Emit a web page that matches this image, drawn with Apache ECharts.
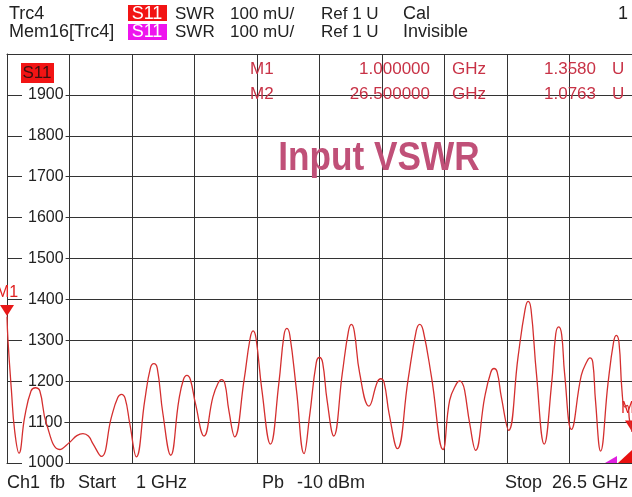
<!DOCTYPE html>
<html>
<head>
<meta charset="utf-8">
<script src="https://cdn.jsdelivr.net/npm/echarts@6/dist/echarts.min.js"></script>
<style>
  html, body { margin: 0; padding: 0; background: #fff; }
  #chart { width: 632px; height: 497px; }
</style>
</head>
<body>
<div id="chart"></div>
<script>
// 频率 (GHz) 与 SWR (mU)，从截图读出
const freqGHz = [
  1.00, 1.04, 1.18, 1.31, 1.49, 1.72, 1.98, 2.16, 2.34, 2.61,
  3.15, 3.56, 3.85, 4.10, 4.32, 4.51, 4.85, 5.26, 5.52, 5.67,
  5.82, 6.01, 6.28, 6.62, 6.85, 6.99, 7.13, 7.36, 7.68, 8.01,
  8.20, 8.34, 8.48, 8.69, 9.04, 9.40, 9.61, 9.75, 9.89, 10.05,
  10.29, 10.67, 10.92, 11.04, 11.16, 11.40, 11.75, 12.09, 12.30, 12.42,
  12.54, 12.81, 13.12, 13.35, 13.62, 13.75, 13.88, 14.06, 14.33, 14.68,
  14.93, 15.05, 15.17, 15.39, 15.77, 16.11, 16.25, 16.39, 16.59, 16.93,
  17.36, 17.70, 17.84, 17.98, 18.32, 18.79, 19.06, 19.34, 19.47, 19.58,
  19.67, 19.88, 20.12, 20.49, 20.74, 20.87, 21.00, 21.17, 21.47, 21.85,
  22.14, 22.26, 22.38, 22.60, 22.92, 23.22, 23.39, 23.51, 23.63, 23.75,
  24.03, 24.43, 24.66, 24.78, 24.90, 25.01, 25.22, 25.52, 25.75, 25.86,
  25.97, 26.09, 26.20, 26.31, 26.40, 26.50
]
const swrMU = [
  1358, 1300, 1178, 1080, 1024, 1112, 1176, 1184, 1176, 1096,
  1033, 1051, 1067, 1072, 1066, 1047, 1016, 1112, 1160, 1168,
  1158, 1096, 1015, 1153, 1232, 1243, 1232, 1121, 1019, 1153,
  1204, 1214, 1204, 1145, 1066, 1161, 1195, 1204, 1194, 1129,
  1064, 1202, 1305, 1323, 1305, 1178, 1046, 1194, 1312, 1329,
  1312, 1178, 1023, 1117, 1246, 1258, 1245, 1153, 1066, 1219,
  1322, 1339, 1322, 1219, 1139, 1198, 1206, 1196, 1121, 1035,
  1202, 1324, 1339, 1324, 1210, 1033, 1153, 1194, 1201, 1195,
  1178, 1096, 1031, 1161, 1222, 1231, 1222, 1161, 1080, 1259,
  1376, 1395, 1376, 1219, 1046, 1194, 1316, 1333, 1314, 1219,
  1082, 1214, 1248, 1257, 1246, 1153, 1029, 1194, 1296, 1312,
  1294, 1178, 1137, 1141, 1104, 1076
]
const yTickLabels = ['1000', '1100', '1200', '1300', '1400', '1500', '1600', '1700', '1800', '1900']

// 标记
const markerNames = ['M1', 'M2']
const markerIndex = [0, freqGHz.length - 1]
const markerFreq = ['1.000000', '26.500000']
const markerValue = ['1.3580', '1.0763']

const FONT = '"Liberation Sans", Arial, sans-serif'
const gridColor = '#333'
const traceColor = '#d42f2f'
const markerColor = '#c83246'

function txt(x, y, text, opts) {
  opts = opts || {}
  return {
    type: 'text',
    x: x,
    y: y,
    z: 100,
    scaleX: opts.scaleX || 1,
    style: {
      text: text,
      fill: opts.color || '#222',
      font: (opts.weight || 'normal') + ' ' + (opts.size || 17) + 'px ' + FONT,
      align: opts.align || 'left',
      verticalAlign: 'middle'
    }
  }
}

function box(x, y, w, h, color) {
  return { type: 'rect', z: 99, shape: { x: x, y: y, width: w, height: h }, style: { fill: color } }
}

const elements = [
  // 表头
  txt(9, 14, 'Trc4', { size: 18 }),
  box(128, 5, 39, 16, '#f21414'),
  txt(147, 14, 'S11', { size: 18, color: '#fff', align: 'center' }),
  txt(175, 14, 'SWR', { size: 17 }),
  txt(230, 14, '100 mU/', { size: 17 }),
  txt(321, 14, 'Ref 1 U', { size: 17 }),
  txt(403, 14, 'Cal', { size: 18 }),
  txt(628, 14, '1', { size: 18, align: 'right' }),

  txt(9, 32, 'Mem16[Trc4]', { size: 18 }),
  box(128, 24, 39, 16, '#ee14ee'),
  txt(147, 32, 'S11', { size: 18, color: '#fff', align: 'center' }),
  txt(175, 32, 'SWR', { size: 17 }),
  txt(230, 32, '100 mU/', { size: 17 }),
  txt(321, 32, 'Ref 1 U', { size: 17 }),
  txt(403, 32, 'Invisible', { size: 18 }),

  // 图内 S11 标签
  box(21, 63, 33, 20, '#f21414'),
  txt(37, 73, 'S11', { size: 17, color: '#3a1010', align: 'center' }),

  // 标题
  txt(379, 159, 'Input VSWR', { size: 40, weight: 'bold', color: '#c05078', align: 'center', scaleX: 0.88 }),

  // 底部
  txt(7, 483, 'Ch1', { size: 18 }),
  txt(50, 483, 'fb', { size: 18 }),
  txt(78, 483, 'Start', { size: 18 }),
  txt(136, 483, '1 GHz', { size: 18 }),
  txt(262, 483, 'Pb', { size: 18 }),
  txt(297, 483, '-10 dBm', { size: 18 }),
  txt(505, 483, 'Stop', { size: 18 }),
  txt(628, 483, '26.5 GHz', { size: 18, align: 'right' }),

  // 右下角指示三角
  { type: 'polygon', z: 99, shape: { points: [[605, 463], [617, 463], [617, 456]] }, style: { fill: '#e020e0' } },
  { type: 'polygon', z: 99, shape: { points: [[618, 463], [632, 463], [632, 450]] }, style: { fill: '#e81010' } }
]

// 标记读数表
markerNames.forEach((name, i) => {
  const y = 69 + i * 25
  elements.push(txt(250, y, name, { color: markerColor }))
  elements.push(txt(430, y, markerFreq[i], { color: markerColor, align: 'right' }))
  elements.push(txt(452, y, 'GHz', { color: markerColor }))
  elements.push(txt(596, y, markerValue[i], { color: markerColor, align: 'right' }))
  elements.push(txt(612, y, 'U', { color: markerColor }))
})

const chart = echarts.init(document.getElementById('chart'), null, { renderer: 'canvas' })

const option = {
  animation: false,
  backgroundColor: '#fff',
  grid: { left: 7, right: 0, top: 54, bottom: 34 },
  xAxis: [
    {
      type: 'value',
      min: 1,
      max: 26.5,
      position: 'bottom',
      axisLine: { show: true, lineStyle: { color: gridColor, width: 1 } },
      axisTick: { show: false },
      axisLabel: { show: false },
      splitLine: { show: false }
    },
    {
      // 只用来画竖向网格 (10 格)
      type: 'value',
      min: 0,
      max: 10,
      interval: 1,
      position: 'top',
      axisLine: { show: true, lineStyle: { color: gridColor, width: 1 } },
      axisTick: { show: false },
      axisLabel: { show: false },
      splitLine: { show: true, lineStyle: { color: gridColor, width: 1 } }
    }
  ],
  yAxis: {
    type: 'value',
    min: 1000,
    max: 2000,
    interval: 100,
    z: 0,
    axisLine: { show: true, lineStyle: { color: gridColor, width: 1 } },
    axisTick: { show: false },
    splitLine: { show: true, lineStyle: { color: gridColor, width: 1 } },
    axisLabel: {
      inside: true,
      margin: 15,
      color: '#222',
      fontSize: 16,
      fontFamily: FONT,
      backgroundColor: '#fff',
      padding: [0, 2, 0, 6],
      formatter: (v) => yTickLabels.includes(String(v)) ? String(v) : ''
    }
  },
  series: [
    {
      type: 'line',
      xAxisIndex: 0,
      z: 5,
      smooth: 0.45,
      showSymbol: false,
      lineStyle: { color: traceColor, width: 1.3 },
      data: freqGHz.map((f, i) => [f, swrMU[i]]),
      markPoint: {
        symbol: 'triangle',
        symbolRotate: 180,
        symbolSize: [14, 11],
        symbolOffset: [0, -6],
        itemStyle: { color: '#e81818' },
        label: {
          show: true,
          position: 'top',
          distance: 4,
          color: '#e02020',
          fontSize: 16,
          fontFamily: FONT,
          formatter: (p) => p.name
        },
        data: markerIndex.map((idx, i) => ({
          name: markerNames[i],
          coord: [freqGHz[idx], swrMU[idx]]
        }))
      }
    }
  ],
  graphic: { elements: elements }
}

chart.setOption(option)
</script>
</body>
</html>
